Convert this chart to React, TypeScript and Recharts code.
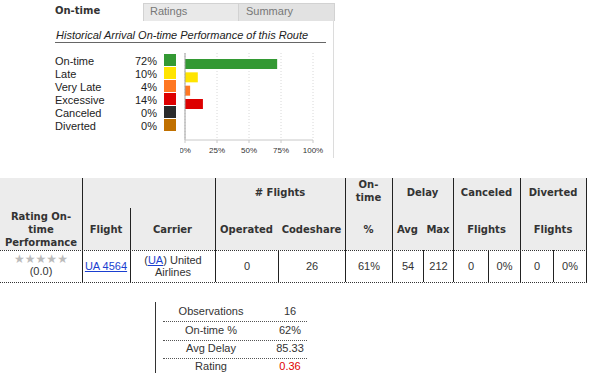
import { BarChart, Bar, XAxis, YAxis, CartesianGrid, ReferenceLine, Cell } from "recharts";

// Historical arrival on-time breakdown
const categories = ["On-time", "Late", "Very Late", "Excessive", "Canceled", "Diverted"];
const percents = [72, 10, 4, 14, 0, 0];
const colors = ["#339933", "#ffe400", "#ff7722", "#dd0000", "#2b2b2b", "#c07000"];
const xTicks = [0, 25, 50, 75, 100];

const tabs = ["On-time", "Ratings", "Summary"];

// flight table row
const flightNo = "UA 4564";
const carrierCode = "UA";
const carrierName = ["United", "Airlines"];
const ratingScore = "(0.0)";
const rowValues = ["0", "26", "61%", "54", "212", "0", "0%", "0", "0%"];

// summary stats
const statLabels = ["Observations", "On-time %", "Avg Delay", "Rating"];
const statValues = ["16", "62%", "85.33", "0.36"];

const REG = "'Liberation Sans', Arial, sans-serif";
const BOLD = "'DejaVu Sans', Verdana, sans-serif";
const TXT = "#333";

const abs = (x: number, y: number, extra: React.CSSProperties = {}): React.CSSProperties => ({
  position: "absolute", left: x, top: y, ...extra,
});

// centered text at (cx, cy)
function CText({ cx, cy, children, style }: { cx: number; cy: number; children: React.ReactNode; style?: React.CSSProperties }) {
  return (
    <div style={{ position: "absolute", left: cx - 60, width: 120, top: cy - 7, height: 14, lineHeight: "14px", textAlign: "center", whiteSpace: "nowrap", ...style }}>
      {children}
    </div>
  );
}

function VLine({ x, y1, y2, color = "#222" }: { x: number; y1: number; y2: number; color?: string }) {
  return <div style={abs(x, y1, { width: 1, height: y2 - y1, background: color })} />;
}

function HDots({ y, x1, x2, color = "#333" }: { y: number; x1: number; x2: number; color?: string }) {
  return <div style={abs(x1, y, { width: x2 - x1, height: 0, borderTop: `1px dotted ${color}` })} />;
}

const linkStyle: React.CSSProperties = { color: "#1a3fd0", textDecoration: "underline" };

function OnTimePanel() {
  const data = categories.map((name, i) => ({ name, value: percents[i] }));
  return (
    <>
      {/* tabs */}
      <div style={abs(55, 3, { height: 18, lineHeight: "16px", fontFamily: BOLD, fontWeight: "bold", fontSize: 10, color: TXT })}>{tabs[0]}</div>
      <div style={abs(143, 3, { width: 94, height: 17, background: "#e9e9e9", border: "1px solid #d2d2d2", borderBottom: "none" })} />
      <div style={abs(238, 3, { width: 95, height: 17, background: "#e2e2e2", border: "1px solid #d2d2d2", borderBottom: "none" })} />
      <div style={abs(150, 3, { lineHeight: "16px", fontFamily: REG, fontSize: 11, color: "#777" })}>{tabs[1]}</div>
      <div style={abs(246, 3, { lineHeight: "16px", fontFamily: REG, fontSize: 11, color: "#777" })}>{tabs[2]}</div>
      <VLine x={333} y1={21} y2={158} color="#dcdcdc" />

      {/* title */}
      <div style={abs(56, 28, { lineHeight: "14px", fontFamily: REG, fontStyle: "italic", fontSize: 11, color: "#222", whiteSpace: "nowrap" })}>
        Historical Arrival On-time Performance of this Route
      </div>
      <div style={abs(55, 42, { width: 271, height: 1, background: "#666" })} />

      {/* legend rows */}
      {categories.map((c, i) => (
        <div key={c}>
          <div style={abs(55, 54 + i * 13, { lineHeight: "14px", fontFamily: REG, fontSize: 11, color: "#222" })}>{c}</div>
          <div style={abs(117, 54 + i * 13, { width: 40, textAlign: "right", lineHeight: "14px", fontFamily: REG, fontSize: 11, color: "#222" })}>{percents[i]}%</div>
          <div style={abs(164, 54 + i * 13, { width: 12, height: 12, background: colors[i] })} />
        </div>
      ))}

      <div style={abs(180, 45)}>
        <BarChart width={150} height={112} data={data} layout="vertical" margin={{ top: 8, right: 17, bottom: 0, left: 5 }}>
          <CartesianGrid horizontal={false} stroke="#d8d8d8" strokeDasharray="1 2" />
          <XAxis
            type="number"
            domain={[0, 100]}
            ticks={xTicks}
            tickFormatter={v => `${v}%`}
            height={17}
            axisLine={{ stroke: "#c8c8c8" }}
            tickLine={{ stroke: "#c8c8c8" }}
            tickSize={3}
            tickMargin={4}
            tick={{ fill: "#333", fontSize: 8, fontFamily: REG }}
            interval={0}
          />
          <YAxis type="category" dataKey="name" hide padding={{ top: 4, bottom: 3 }} />
          <ReferenceLine x={0} stroke="#a0a0a0" />
          <Bar dataKey="value" barSize={10} isAnimationActive={false}>
            {data.map((d, i) => <Cell key={d.name} fill={colors[i]} />)}
          </Bar>
        </BarChart>
      </div>
    </>
  );
}

function FlightTable() {
  const T = 178, H = 250, B = 282;
  const hdr: React.CSSProperties = { fontFamily: BOLD, fontWeight: "bold", fontSize: 10, color: TXT };
  const cell: React.CSSProperties = { fontFamily: REG, fontSize: 11, color: TXT };
  const full = [82, 215, 345, 392, 453, 520, 586];
  const lower = [130];
  const dataOnly = [278, 423, 488, 553];
  const topGroups: [string, number, number][] = [["# Flights", 215, 345], ["Delay", 392, 453], ["Canceled", 453, 520], ["Diverted", 520, 586]];
  const subHeads: [string, number, number][] = [
    ["Flight", 82, 130], ["Carrier", 130, 215], ["Operated", 215, 278], ["Codeshare", 278, 345],
    ["%", 345, 392], ["Avg", 392, 423], ["Max", 423, 453], ["Flights", 453, 520], ["Flights", 520, 586],
  ];
  const valueCols: [number, number][] = [[215, 278], [278, 345], [345, 392], [392, 423], [423, 453], [453, 488], [488, 520], [520, 553], [553, 586]];
  return (
    <>
      <div style={abs(0, T, { width: 587, height: H - T, background: "#ececec" })} />
      {full.map(x => <VLine key={x} x={x} y1={T} y2={B} />)}
      {lower.map(x => <VLine key={x} x={x} y1={208} y2={B} />)}
      {dataOnly.map(x => <VLine key={x} x={x} y1={H} y2={B} />)}
      <HDots y={H} x1={0} x2={587} />
      <HDots y={B} x1={0} x2={587} />

      {topGroups.map(([t, a, b]) => <CText key={t} cx={(a + b) / 2} cy={193} style={hdr}>{t}</CText>)}
      <CText cx={368.5} cy={185} style={hdr}>On-</CText>
      <CText cx={368.5} cy={198} style={hdr}>time</CText>
      <CText cx={41} cy={217} style={hdr}>Rating On-</CText>
      <CText cx={41} cy={230} style={hdr}>time</CText>
      <CText cx={41} cy={243} style={hdr}>Performance</CText>
      {subHeads.map(([t, a, b], i) => <CText key={i} cx={(a + b) / 2} cy={230} style={hdr}>{t}</CText>)}

      <CText cx={41} cy={259} style={{ ...cell, color: "#bbb", fontSize: 12, fontFamily: "'DejaVu Sans', sans-serif" }}>★★★★★</CText>
      <CText cx={41} cy={271} style={cell}>{ratingScore}</CText>
      <CText cx={106} cy={266} style={cell}><span style={linkStyle}>{flightNo}</span></CText>
      <CText cx={173} cy={260} style={cell}>(<span style={linkStyle}>{carrierCode}</span>) {carrierName[0]}</CText>
      <CText cx={173} cy={272} style={cell}>{carrierName[1]}</CText>
      {valueCols.map(([a, b], i) => <CText key={i} cx={(a + b) / 2 + 0.5} cy={266} style={cell}>{rowValues[i]}</CText>)}
    </>
  );
}

function StatsTable() {
  const cell: React.CSSProperties = { fontFamily: REG, fontSize: 11, color: TXT };
  const ys = [311, 330, 348, 366];
  return (
    <>
      <VLine x={155} y1={302} y2={373} color="#333" />
      {statLabels.map((l, i) => (
        <div key={l}>
          <CText cx={211} cy={ys[i]} style={cell}>{l}</CText>
          <CText cx={290} cy={ys[i]} style={{ ...cell, color: l === "Rating" ? "#e00000" : TXT }}>{statValues[i]}</CText>
          {i < 3 && <HDots y={(ys[i] + ys[i + 1]) / 2 + 0.5} x1={163} x2={307} color="#555" />}
        </div>
      ))}
    </>
  );
}

export default function App() {
  return (
    <div style={{ position: "absolute", left: 0, top: 0, width: 593, height: 373, background: "#fff", overflow: "hidden" }}>
      <OnTimePanel />
      <FlightTable />
      <StatsTable />
    </div>
  );
}
